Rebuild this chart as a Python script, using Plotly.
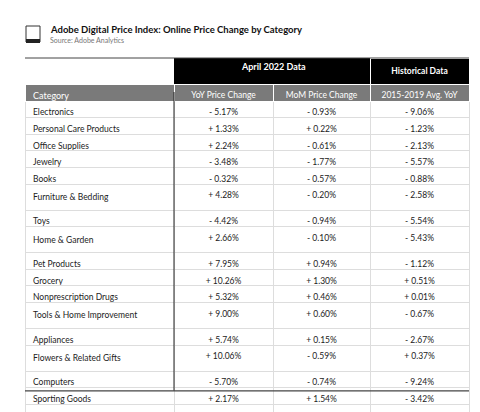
import plotly.graph_objects as go

categories = ["Electronics", "Personal Care Products", "Office Supplies", "Jewelry", "Books",
              "Furniture & Bedding", "Toys", "Home & Garden", "Pet Products", "Grocery",
              "Nonprescription Drugs", "Tools & Home Improvement", "Appliances",
              "Flowers & Related Gifts", "Computers", "Sporting Goods",
              "Medical Equipment & Supplies", "Apparel"]
yoy = [-5.17, 1.33, 2.24, -3.48, -0.32, 4.28, -4.42, 2.66, 7.95, 10.26, 5.32, 9.00, 5.74,
       10.06, -5.70, 2.17, 10.24, 12.32]
mom = [-0.93, 0.22, -0.61, -1.77, -0.57, -0.20, -0.94, -0.10, 0.94, 1.30, 0.46, 0.60, 0.15,
       -0.59, -0.74, 1.54, 0.60, -1.67]
hist = [-9.06, -1.23, -2.13, -5.57, -0.88, -2.58, -5.54, -5.43, -1.12, 0.51, 0.01, -0.67,
        -2.67, 0.37, -9.24, -3.42, -1.06, -1.08]
col_headers = ["Category", "YoY Price Change", "MoM Price Change", "2015-2019 Avg. YoY"]


def fmt(v):
    return ("+ " if v >= 0 else "- ") + f"{abs(v):.2f}%"


W, H = 480, 412
x0, x1 = 17, 461
font = "Lato"
gray = "#7a7a7a"

fig = go.Figure(go.Table(
    domain=dict(x=[x0 / W, x1 / W], y=[0, 1 - 50 / H]),
    columnwidth=[149, 99, 97, 99],
    header=dict(values=[["", col_headers[0]], ["", col_headers[1]],
                        ["", col_headers[2]], ["<b>Historical Data</b>", col_headers[3]]],
                fill_color=[["white", gray], ["black", gray], ["black", gray], ["black", gray]],
                line=dict(color=[["white", "white"], ["black", "white"],
                                 ["black", "white"], ["white", "white"]], width=1),
                font=dict(family=font, size=[9, 8.5], color="white"),
                align=["left", "center", "center", "center"], height=17),
    cells=dict(values=[categories, [fmt(v) for v in yoy], [fmt(v) for v in mom],
                       [fmt(v) for v in hist]],
               fill_color="white",
               line=dict(color="#dddddd", width=1),
               font=dict(family=font, size=8.5, color="#222222"),
               align=["left", "center", "center", "center"], height=16.6),
))

top_rows = 84
bottom = top_rows + 16.6 * len(categories)
fig.add_annotation(text="<b>April 2022 Data</b>", xref="paper", yref="paper",
                   x=265 / W, y=1 - 58.5 / H, xanchor="center", yanchor="middle",
                   showarrow=False, font=dict(family=font, size=9, color="white"))
fig.add_shape(type="line", xref="paper", yref="paper",
              x0=x0 / W, x1=x1 / W, y0=1 - 50 / H, y1=1 - 50 / H,
              line=dict(color="#444", width=1))
fig.add_shape(type="line", xref="paper", yref="paper",
              x0=166 / W, x1=166 / W, y0=1 - top_rows / H, y1=1 - bottom / H,
              line=dict(color="#222", width=1))
fig.add_shape(type="line", xref="paper", yref="paper",
              x0=x0 / W, x1=x1 / W, y0=1 - bottom / H, y1=1 - bottom / H,
              line=dict(color="#444", width=1.2))

# logo
fig.add_shape(type="rect", xref="paper", yref="paper",
              x0=18 / W, x1=32 / W, y0=1 - 34 / H, y1=1 - 18 / H,
              line=dict(color="#333", width=1), fillcolor="white")
fig.add_shape(type="rect", xref="paper", yref="paper",
              x0=18 / W, x1=32 / W, y0=1 - 35 / H, y1=1 - 31 / H,
              line=dict(color="#222", width=0), fillcolor="#222")

fig.add_annotation(text="<b>Adobe Digital Price Index: Online Price Change by Category</b>",
                   xref="paper", yref="paper", x=40 / W, y=1 - 22 / H,
                   xanchor="left", yanchor="middle", showarrow=False,
                   font=dict(family=font, size=9.5, color="#111"))
fig.add_annotation(text="Source: Adobe Analytics",
                   xref="paper", yref="paper", x=40 / W, y=1 - 32 / H,
                   xanchor="left", yanchor="middle", showarrow=False,
                   font=dict(family=font, size=7, color="#777"))

fig.update_layout(width=W, height=H, margin=dict(l=0, r=0, t=0, b=0),
                  paper_bgcolor="white")

fig.write_html("out.html")
